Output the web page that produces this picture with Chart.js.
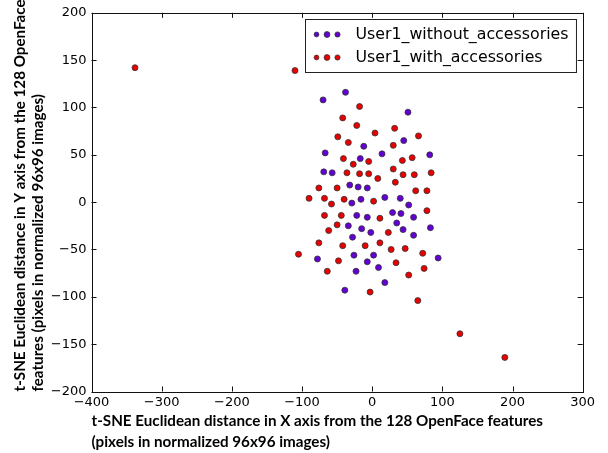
<!DOCTYPE html>
<html>
<head>
<meta charset="utf-8">
<script src="https://cdn.jsdelivr.net/npm/chart.js@4"></script>
<style>
  html, body { margin: 0; padding: 0; background: #fff; }
  #wrap { width: 608px; height: 453px; }
</style>
</head>
<body>
<div id="wrap"><canvas id="tsneChart" width="608" height="453"></canvas></div>
<script>
// values
const withoutX = [-38, -70, 51, 45, -12, -67, 14, 82, -17, -69, -57, -32, -20, -7, -16, 18, 40, -29, 52, -22,
                  -7, 29, 41, 59, -34, 35, -15, -2, 44, 59, 83, -28, 94, -78, -26, 2, -7, 9, -23, 18, -39];
const withoutY = [116, 108, 95, 65, 59, 52, 51, 50, 46, 32, 31, 18, 16, 15, 3, 5, 4, -1, -3, -14,
                  -16, -11, -12, -16, -25, -22, -28, -32, -29, -35, -27, -37, -59, -60, -56, -56, -63, -69, -73, -85, -93];
const withX = [-338, -110, 125, 189, -18, -42, -22, 32, 4, -49, 66, -34, 30, -41, -5, 43, 57, -27, -36, -18,
               -5, 30, 44, 60, 84, 8, 33, -76, -50, 62, 78, -90, -68, -40, 2, -58, 78, -68, -44, 11,
               -50, -62, 23, -76, -42, -10, 11, 27, 47, 72, -105, -48, 34, 74, -64, 52, -3, 65];
const withY = [142, 139, -139, -164, 101, 89, 81, 78, 73, 69, 70, 63, 60, 46, 43, 44, 47, 40, 31, 30,
               30, 35, 29, 29, 31, 25, 21, 15, 15, 12, 12, 4, 4, 3, 1, -2, -9, -14, -14, -17,
               -24, -30, -32, -43, -46, -46, -43, -50, -49, -54, -55, -62, -64, -70, -73, -77, -95, -104];

const seriesLabels = ['User1_without_accessories', 'User1_with_accessories'];
const seriesColors = ['#6300d6', '#ea0000'];

const xTicks = [-400, -300, -200, -100, 0, 100, 200, 300];
const yTicks = [-200, -150, -100, -50, 0, 50, 100, 150, 200];

const xTitle = ['t-SNE Euclidean distance in X axis from the 128 OpenFace features',
                '(pixels in normalized 96x96 images)'];
const yTitle = ['t-SNE Euclidean distance in Y axis from the 128 OpenFace',
                'features (pixels in normalized 96x96 images)'];

const toPoints = (xs, ys) => xs.map((x, i) => ({ x: x, y: ys[i] }));
const minus = v => String(v).replace('-', '\u2212');

// matplotlib-like frame, inward ticks and legend
const frameAndLegend = {
    id: 'frameAndLegend',
    afterDraw(chart) {
        const { ctx, chartArea: a, scales } = chart;
        ctx.save();
        ctx.strokeStyle = '#111';
        ctx.lineWidth = 1;
        ctx.strokeRect(Math.round(a.left) + 0.5, Math.round(a.top) + 0.5,
            Math.round(a.right - a.left), Math.round(a.bottom - a.top));

        ctx.beginPath();
        xTicks.forEach(v => {
            const px = Math.round(scales.x.getPixelForValue(v)) + 0.5;
            ctx.moveTo(px, a.bottom); ctx.lineTo(px, a.bottom - 5);
            ctx.moveTo(px, a.top); ctx.lineTo(px, a.top + 5);
        });
        yTicks.forEach(v => {
            const py = Math.round(scales.y.getPixelForValue(v)) + 0.5;
            ctx.moveTo(a.left, py); ctx.lineTo(a.left + 5, py);
            ctx.moveTo(a.right, py); ctx.lineTo(a.right - 5, py);
        });
        ctx.stroke();

        // Legend box
        ctx.font = '15.8px "DejaVu Sans"';
        const textW = Math.max(...chart.data.datasets.map(d => ctx.measureText(d.label).width));
        const boxW = 50 + textW + 8;
        const boxH = 53;
        const bx = Math.round(a.right - 7 - boxW) + 0.5;
        const by = Math.round(a.top + 6) + 0.5;
        ctx.fillStyle = '#fff';
        ctx.fillRect(bx, by, boxW, boxH);
        ctx.strokeStyle = '#222';
        ctx.strokeRect(bx, by, boxW, boxH);

        const dotX = [11, 21.5, 32];
        const dotR = [2.4, 2.9, 2.6];
        chart.data.datasets.forEach((d, i) => {
            const cy = by + 15 + i * 23;
            dotX.forEach((dx, k) => {
                ctx.beginPath();
                ctx.arc(bx + dx, cy, dotR[k], 0, Math.PI * 2);
                ctx.fillStyle = d.backgroundColor;
                ctx.fill();
                ctx.lineWidth = 0.8;
                ctx.strokeStyle = '#333';
                ctx.stroke();
            });
            ctx.fillStyle = '#000';
            ctx.textBaseline = 'middle';
            ctx.textAlign = 'left';
            ctx.fillText(d.label, bx + 50, cy);
        });
        ctx.restore();
    }
};

const tickFont = { family: '"DejaVu Sans"', size: 13 };

new Chart(document.getElementById('tsneChart').getContext('2d'), {
    type: 'scatter',
    data: {
        datasets: [
            {
                label: seriesLabels[0],
                data: toPoints(withoutX, withoutY),
                backgroundColor: seriesColors[0],
                borderColor: '#333',
                borderWidth: 0.8,
                pointRadius: 3,
                order: 2
            },
            {
                label: seriesLabels[1],
                data: toPoints(withX, withY),
                backgroundColor: seriesColors[1],
                borderColor: '#333',
                borderWidth: 0.8,
                pointRadius: 3,
                order: 1
            }
        ]
    },
    options: {
        responsive: false,
        animation: false,
        devicePixelRatio: 1,
        layout: { padding: { left: 0, top: 10, right: 25.3, bottom: 0 } },
        plugins: {
            legend: { display: false },
            tooltip: { enabled: false }
        },
        scales: {
            x: {
                type: 'linear',
                position: 'bottom',
                min: -400,
                max: 300,
                grid: { display: false, drawTicks: false },
                border: { display: false },
                afterBuildTicks: s => { s.ticks = xTicks.map(v => ({ value: v })); },
                afterFit: s => { s.height = 61.5; },
                ticks: {
                    font: tickFont,
                    color: '#000',
                    padding: 3,
                    maxRotation: 0,
                    callback: v => minus(v)
                },
                title: {
                    display: true,
                    text: xTitle,
                    align: 'start',
                    color: '#000',
                    font: { family: 'Lato', size: 15.2, weight: 'bold', lineHeight: '21px' },
                    padding: { top: 0, bottom: 0 }
                }
            },
            y: {
                type: 'linear',
                position: 'left',
                min: -200,
                max: 200,
                grid: { display: false, drawTicks: false },
                border: { display: false },
                afterBuildTicks: s => { s.ticks = yTicks.map(v => ({ value: v })); },
                afterFit: s => { s.width = 91.5; },
                ticks: {
                    font: tickFont,
                    color: '#000',
                    padding: 5,
                    callback: v => minus(v)
                },
                title: {
                    display: true,
                    text: yTitle,
                    align: 'start',
                    color: '#000',
                    font: { family: 'Lato', size: 15.2, weight: 'bold', lineHeight: '18px' },
                    padding: { top: 11, bottom: 0 }
                }
            }
        }
    },
    plugins: [frameAndLegend]
});
</script>
</body>
</html>
